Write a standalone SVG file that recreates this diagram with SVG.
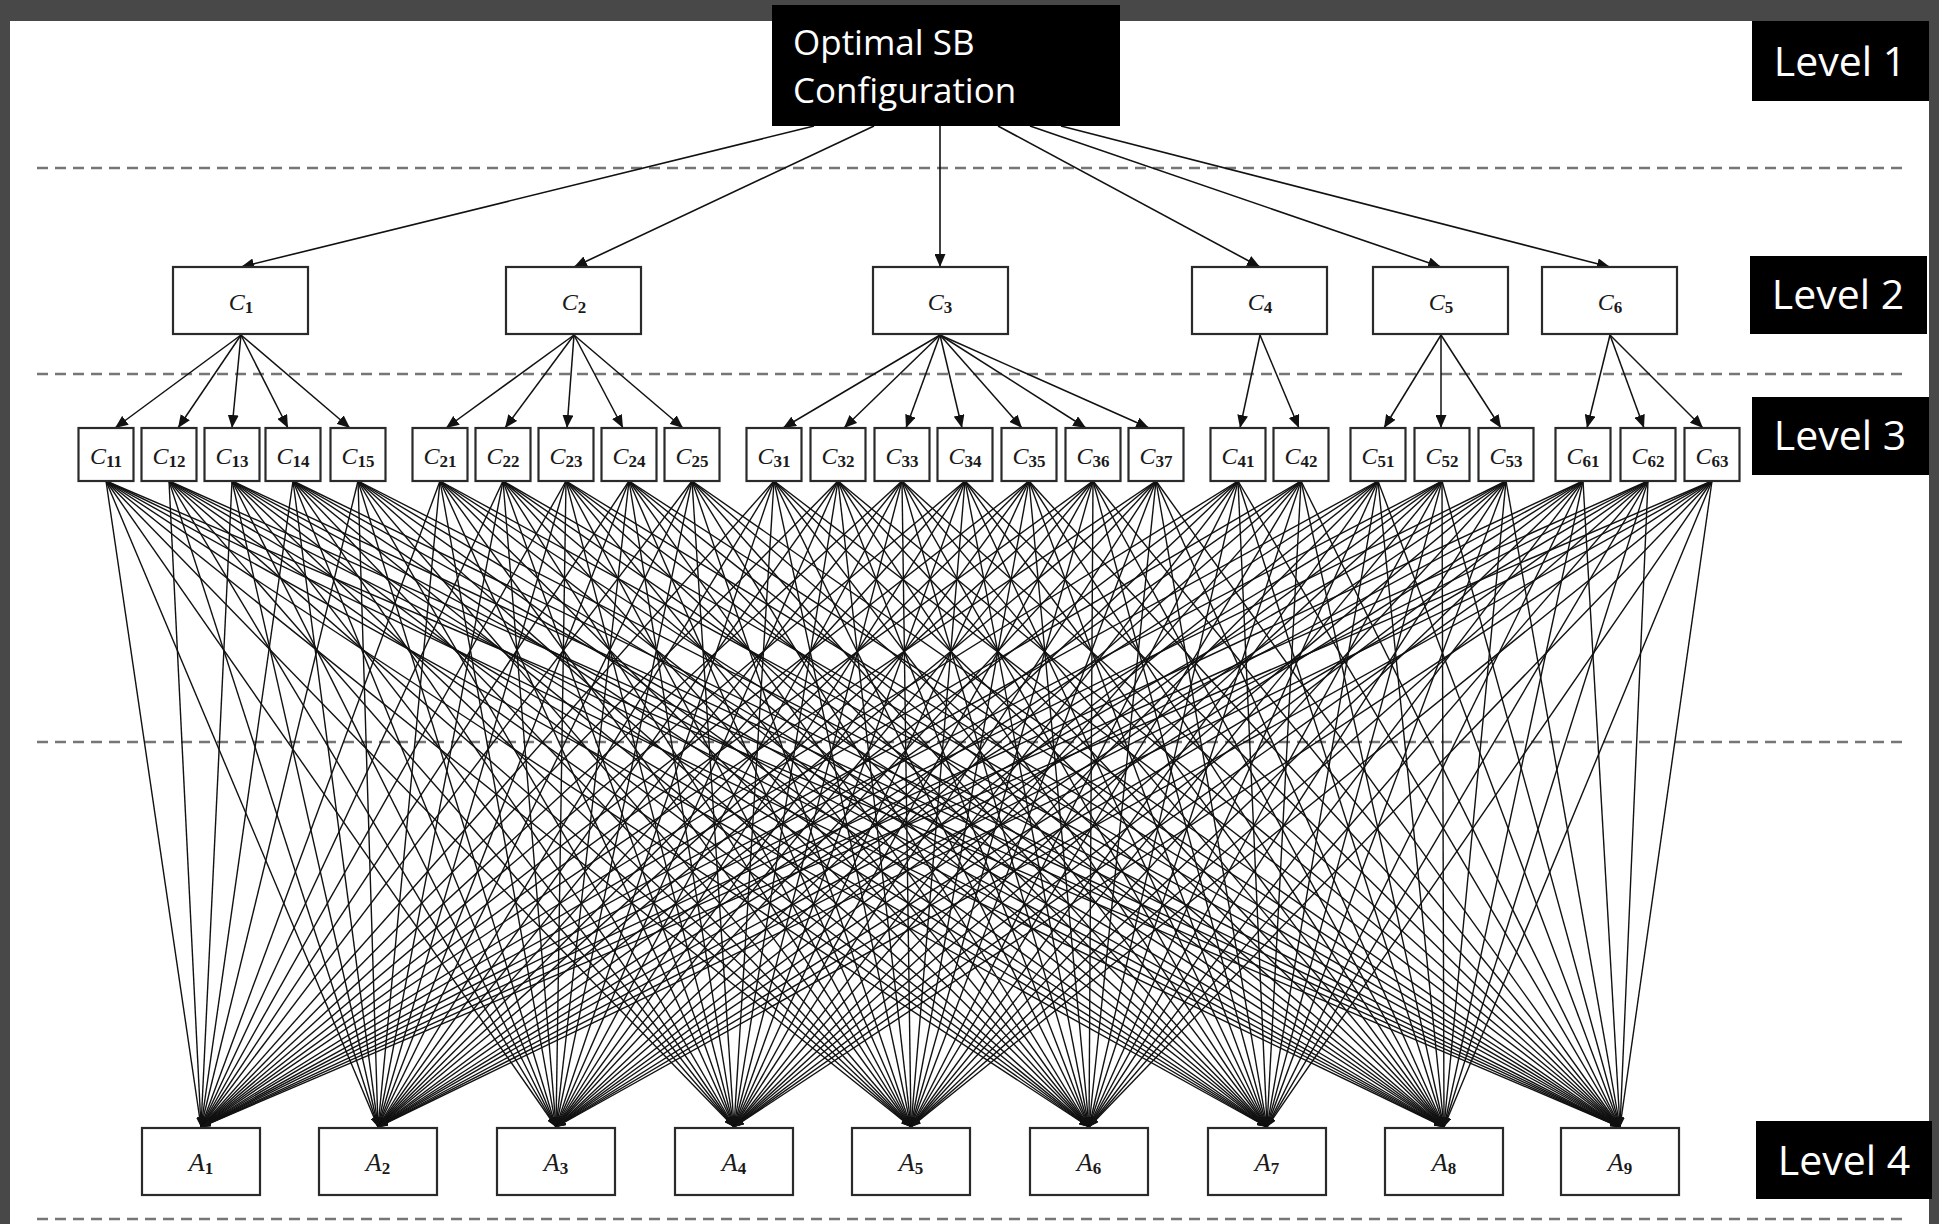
<svg xmlns="http://www.w3.org/2000/svg" width="1939" height="1224" viewBox="0 0 1939 1224">
<style>
.lbl{fill:#000}
.lbl text{fill:#fff;font-family:"Open Sans","Liberation Sans",sans-serif;font-size:41px;text-anchor:middle}
.title text{fill:#fff;font-family:"Open Sans","Liberation Sans",sans-serif;font-size:35px}
.box{fill:#fff;stroke:#2a2a2a;stroke-width:2.2}
.nt{font-family:"Liberation Serif","DejaVu Serif",serif;font-size:24px;text-anchor:middle;fill:#1a1a1a}
.nt .v{font-style:italic}
.nt .s{font-weight:bold;font-size:17px}
.at{font-size:26px}
.dash{stroke:#767676;stroke-width:2.4;stroke-dasharray:11 7;fill:none}
.top path{stroke:#111;stroke-width:1.6;fill:none;marker-end:url(#ah)}
.mid path{stroke:#111;stroke-width:1.5;fill:none;marker-end:url(#ah)}
.low path{stroke:#111;stroke-width:1.4;fill:none;marker-end:url(#as)}
</style>
<defs>
<marker id="ah" markerUnits="userSpaceOnUse" markerWidth="13" markerHeight="11" refX="13" refY="5.5" orient="auto"><path d="M0,0 L13,5.5 L0,11 z" fill="#111"/></marker>
<marker id="as" markerUnits="userSpaceOnUse" markerWidth="10" markerHeight="7" refX="10" refY="3.5" orient="auto"><path d="M0,0 L10,3.5 L0,7 z" fill="#111"/></marker>
</defs>
<rect width="1939" height="1224" fill="#484848"/>
<rect x="10" y="21" width="1919" height="1203" fill="#fff"/>
<g id="dividers">
<path class="dash" d="M37 168H1904"/>
<path class="dash" d="M37 374H1904"/>
<path class="dash" d="M37 742H1904"/>
<path class="dash" d="M37 1219H1904"/>
</g>
<g id="connectors">
<g class="top">
<path d="M814 126L241 267"/>
<path d="M874 126L574 267"/>
<path d="M940 126L940 267"/>
<path d="M998 126L1260 267"/>
<path d="M1030 126L1441 267"/>
<path d="M1061 126L1610 267"/>
</g>
<g class="mid">
<path d="M241 335L115 428"/><path d="M241 335L178 428"/><path d="M241 335L232 428"/><path d="M241 335L288 428"/><path d="M241 335L350 428"/>
<path d="M574 335L446 428"/><path d="M574 335L505 428"/><path d="M574 335L567 428"/><path d="M574 335L623 428"/><path d="M574 335L683 428"/>
<path d="M940 335L783 428"/><path d="M940 335L844 428"/><path d="M940 335L906 428"/><path d="M940 335L962 428"/><path d="M940 335L1022 428"/><path d="M940 335L1086 428"/><path d="M940 335L1149 428"/>
<path d="M1260 335L1240 428"/><path d="M1260 335L1299 428"/>
<path d="M1441 335L1384 428"/><path d="M1441 335L1441 428"/><path d="M1441 335L1501 428"/>
<path d="M1610 335L1587 428"/><path d="M1610 335L1644 428"/><path d="M1610 335L1703 428"/>
</g>
<g class="low">
<g id="to-A1"><path d="M106 481L201 1127"/><path d="M169 481L201 1127"/><path d="M232 481L201 1127"/><path d="M293 481L201 1127"/><path d="M358 481L201 1127"/><path d="M440 481L201 1127"/><path d="M503 481L201 1127"/><path d="M566 481L201 1127"/><path d="M629 481L201 1127"/><path d="M692 481L201 1127"/><path d="M774 481L201 1127"/><path d="M838 481L201 1127"/><path d="M902 481L201 1127"/><path d="M965 481L201 1127"/><path d="M1029 481L201 1127"/><path d="M1093 481L201 1127"/><path d="M1156 481L201 1127"/><path d="M1238 481L201 1127"/><path d="M1301 481L201 1127"/><path d="M1378 481L201 1127"/><path d="M1442 481L201 1127"/><path d="M1506 481L201 1127"/><path d="M1583 481L201 1127"/><path d="M1648 481L201 1127"/><path d="M1712 481L201 1127"/></g>
<g id="to-A2"><path d="M106 481L378 1127"/><path d="M169 481L378 1127"/><path d="M232 481L378 1127"/><path d="M293 481L378 1127"/><path d="M358 481L378 1127"/><path d="M440 481L378 1127"/><path d="M503 481L378 1127"/><path d="M566 481L378 1127"/><path d="M629 481L378 1127"/><path d="M692 481L378 1127"/><path d="M774 481L378 1127"/><path d="M838 481L378 1127"/><path d="M902 481L378 1127"/><path d="M965 481L378 1127"/><path d="M1029 481L378 1127"/><path d="M1093 481L378 1127"/><path d="M1156 481L378 1127"/><path d="M1238 481L378 1127"/><path d="M1301 481L378 1127"/><path d="M1378 481L378 1127"/><path d="M1442 481L378 1127"/><path d="M1506 481L378 1127"/><path d="M1583 481L378 1127"/><path d="M1648 481L378 1127"/><path d="M1712 481L378 1127"/></g>
<g id="to-A3"><path d="M106 481L556 1127"/><path d="M169 481L556 1127"/><path d="M232 481L556 1127"/><path d="M293 481L556 1127"/><path d="M358 481L556 1127"/><path d="M440 481L556 1127"/><path d="M503 481L556 1127"/><path d="M566 481L556 1127"/><path d="M629 481L556 1127"/><path d="M692 481L556 1127"/><path d="M774 481L556 1127"/><path d="M838 481L556 1127"/><path d="M902 481L556 1127"/><path d="M965 481L556 1127"/><path d="M1029 481L556 1127"/><path d="M1093 481L556 1127"/><path d="M1156 481L556 1127"/><path d="M1238 481L556 1127"/><path d="M1301 481L556 1127"/><path d="M1378 481L556 1127"/><path d="M1442 481L556 1127"/><path d="M1506 481L556 1127"/><path d="M1583 481L556 1127"/><path d="M1648 481L556 1127"/><path d="M1712 481L556 1127"/></g>
<g id="to-A4"><path d="M106 481L734 1127"/><path d="M169 481L734 1127"/><path d="M232 481L734 1127"/><path d="M293 481L734 1127"/><path d="M358 481L734 1127"/><path d="M440 481L734 1127"/><path d="M503 481L734 1127"/><path d="M566 481L734 1127"/><path d="M629 481L734 1127"/><path d="M692 481L734 1127"/><path d="M774 481L734 1127"/><path d="M838 481L734 1127"/><path d="M902 481L734 1127"/><path d="M965 481L734 1127"/><path d="M1029 481L734 1127"/><path d="M1093 481L734 1127"/><path d="M1156 481L734 1127"/><path d="M1238 481L734 1127"/><path d="M1301 481L734 1127"/><path d="M1378 481L734 1127"/><path d="M1442 481L734 1127"/><path d="M1506 481L734 1127"/><path d="M1583 481L734 1127"/><path d="M1648 481L734 1127"/><path d="M1712 481L734 1127"/></g>
<g id="to-A5"><path d="M106 481L911 1127"/><path d="M169 481L911 1127"/><path d="M232 481L911 1127"/><path d="M293 481L911 1127"/><path d="M358 481L911 1127"/><path d="M440 481L911 1127"/><path d="M503 481L911 1127"/><path d="M566 481L911 1127"/><path d="M629 481L911 1127"/><path d="M692 481L911 1127"/><path d="M774 481L911 1127"/><path d="M838 481L911 1127"/><path d="M902 481L911 1127"/><path d="M965 481L911 1127"/><path d="M1029 481L911 1127"/><path d="M1093 481L911 1127"/><path d="M1156 481L911 1127"/><path d="M1238 481L911 1127"/><path d="M1301 481L911 1127"/><path d="M1378 481L911 1127"/><path d="M1442 481L911 1127"/><path d="M1506 481L911 1127"/><path d="M1583 481L911 1127"/><path d="M1648 481L911 1127"/><path d="M1712 481L911 1127"/></g>
<g id="to-A6"><path d="M106 481L1089 1127"/><path d="M169 481L1089 1127"/><path d="M232 481L1089 1127"/><path d="M293 481L1089 1127"/><path d="M358 481L1089 1127"/><path d="M440 481L1089 1127"/><path d="M503 481L1089 1127"/><path d="M566 481L1089 1127"/><path d="M629 481L1089 1127"/><path d="M692 481L1089 1127"/><path d="M774 481L1089 1127"/><path d="M838 481L1089 1127"/><path d="M902 481L1089 1127"/><path d="M965 481L1089 1127"/><path d="M1029 481L1089 1127"/><path d="M1093 481L1089 1127"/><path d="M1156 481L1089 1127"/><path d="M1238 481L1089 1127"/><path d="M1301 481L1089 1127"/><path d="M1378 481L1089 1127"/><path d="M1442 481L1089 1127"/><path d="M1506 481L1089 1127"/><path d="M1583 481L1089 1127"/><path d="M1648 481L1089 1127"/><path d="M1712 481L1089 1127"/></g>
<g id="to-A7"><path d="M106 481L1267 1127"/><path d="M169 481L1267 1127"/><path d="M232 481L1267 1127"/><path d="M293 481L1267 1127"/><path d="M358 481L1267 1127"/><path d="M440 481L1267 1127"/><path d="M503 481L1267 1127"/><path d="M566 481L1267 1127"/><path d="M629 481L1267 1127"/><path d="M692 481L1267 1127"/><path d="M774 481L1267 1127"/><path d="M838 481L1267 1127"/><path d="M902 481L1267 1127"/><path d="M965 481L1267 1127"/><path d="M1029 481L1267 1127"/><path d="M1093 481L1267 1127"/><path d="M1156 481L1267 1127"/><path d="M1238 481L1267 1127"/><path d="M1301 481L1267 1127"/><path d="M1378 481L1267 1127"/><path d="M1442 481L1267 1127"/><path d="M1506 481L1267 1127"/><path d="M1583 481L1267 1127"/><path d="M1648 481L1267 1127"/><path d="M1712 481L1267 1127"/></g>
<g id="to-A8"><path d="M106 481L1444 1127"/><path d="M169 481L1444 1127"/><path d="M232 481L1444 1127"/><path d="M293 481L1444 1127"/><path d="M358 481L1444 1127"/><path d="M440 481L1444 1127"/><path d="M503 481L1444 1127"/><path d="M566 481L1444 1127"/><path d="M629 481L1444 1127"/><path d="M692 481L1444 1127"/><path d="M774 481L1444 1127"/><path d="M838 481L1444 1127"/><path d="M902 481L1444 1127"/><path d="M965 481L1444 1127"/><path d="M1029 481L1444 1127"/><path d="M1093 481L1444 1127"/><path d="M1156 481L1444 1127"/><path d="M1238 481L1444 1127"/><path d="M1301 481L1444 1127"/><path d="M1378 481L1444 1127"/><path d="M1442 481L1444 1127"/><path d="M1506 481L1444 1127"/><path d="M1583 481L1444 1127"/><path d="M1648 481L1444 1127"/><path d="M1712 481L1444 1127"/></g>
<g id="to-A9"><path d="M106 481L1620 1127"/><path d="M169 481L1620 1127"/><path d="M232 481L1620 1127"/><path d="M293 481L1620 1127"/><path d="M358 481L1620 1127"/><path d="M440 481L1620 1127"/><path d="M503 481L1620 1127"/><path d="M566 481L1620 1127"/><path d="M629 481L1620 1127"/><path d="M692 481L1620 1127"/><path d="M774 481L1620 1127"/><path d="M838 481L1620 1127"/><path d="M902 481L1620 1127"/><path d="M965 481L1620 1127"/><path d="M1029 481L1620 1127"/><path d="M1093 481L1620 1127"/><path d="M1156 481L1620 1127"/><path d="M1238 481L1620 1127"/><path d="M1301 481L1620 1127"/><path d="M1378 481L1620 1127"/><path d="M1442 481L1620 1127"/><path d="M1506 481L1620 1127"/><path d="M1583 481L1620 1127"/><path d="M1648 481L1620 1127"/><path d="M1712 481L1620 1127"/></g>
</g>
</g>
<g id="root" class="title"><rect x="772" y="5" width="348" height="121" fill="#000"/><text x="793" y="55">Optimal SB</text><text x="793" y="103">Configuration</text></g>
<g id="level1" class="lbl"><rect x="1752" y="21" width="177" height="80"/><text x="1840" y="76">Level 1</text></g>
<g id="level2" class="lbl"><rect x="1750" y="256" width="177" height="78"/><text x="1838" y="309">Level 2</text></g>
<g id="level3" class="lbl"><rect x="1752" y="397" width="177" height="78"/><text x="1840" y="450">Level 3</text></g>
<g id="level4" class="lbl"><rect x="1756" y="1121" width="176" height="78"/><text x="1844" y="1175">Level 4</text></g>
<g id="C1"><rect class="box" x="173" y="267" width="135" height="67"/><text class="nt" x="241" y="310"><tspan class="v">C</tspan><tspan class="s" dy="3">1</tspan></text></g>
<g id="C2"><rect class="box" x="506" y="267" width="135" height="67"/><text class="nt" x="574" y="310"><tspan class="v">C</tspan><tspan class="s" dy="3">2</tspan></text></g>
<g id="C3"><rect class="box" x="873" y="267" width="135" height="67"/><text class="nt" x="940" y="310"><tspan class="v">C</tspan><tspan class="s" dy="3">3</tspan></text></g>
<g id="C4"><rect class="box" x="1192" y="267" width="135" height="67"/><text class="nt" x="1260" y="310"><tspan class="v">C</tspan><tspan class="s" dy="3">4</tspan></text></g>
<g id="C5"><rect class="box" x="1373" y="267" width="135" height="67"/><text class="nt" x="1441" y="310"><tspan class="v">C</tspan><tspan class="s" dy="3">5</tspan></text></g>
<g id="C6"><rect class="box" x="1542" y="267" width="135" height="67"/><text class="nt" x="1610" y="310"><tspan class="v">C</tspan><tspan class="s" dy="3">6</tspan></text></g>
<g id="C11"><rect class="box" x="78.5" y="428" width="55" height="53"/><text class="nt" x="106" y="464"><tspan class="v">C</tspan><tspan class="s" dy="3">11</tspan></text></g>
<g id="C12"><rect class="box" x="141.5" y="428" width="55" height="53"/><text class="nt" x="169" y="464"><tspan class="v">C</tspan><tspan class="s" dy="3">12</tspan></text></g>
<g id="C13"><rect class="box" x="204.5" y="428" width="55" height="53"/><text class="nt" x="232" y="464"><tspan class="v">C</tspan><tspan class="s" dy="3">13</tspan></text></g>
<g id="C14"><rect class="box" x="265.5" y="428" width="55" height="53"/><text class="nt" x="293" y="464"><tspan class="v">C</tspan><tspan class="s" dy="3">14</tspan></text></g>
<g id="C15"><rect class="box" x="330.5" y="428" width="55" height="53"/><text class="nt" x="358" y="464"><tspan class="v">C</tspan><tspan class="s" dy="3">15</tspan></text></g>
<g id="C21"><rect class="box" x="412.5" y="428" width="55" height="53"/><text class="nt" x="440" y="464"><tspan class="v">C</tspan><tspan class="s" dy="3">21</tspan></text></g>
<g id="C22"><rect class="box" x="475.5" y="428" width="55" height="53"/><text class="nt" x="503" y="464"><tspan class="v">C</tspan><tspan class="s" dy="3">22</tspan></text></g>
<g id="C23"><rect class="box" x="538.5" y="428" width="55" height="53"/><text class="nt" x="566" y="464"><tspan class="v">C</tspan><tspan class="s" dy="3">23</tspan></text></g>
<g id="C24"><rect class="box" x="601.5" y="428" width="55" height="53"/><text class="nt" x="629" y="464"><tspan class="v">C</tspan><tspan class="s" dy="3">24</tspan></text></g>
<g id="C25"><rect class="box" x="664.5" y="428" width="55" height="53"/><text class="nt" x="692" y="464"><tspan class="v">C</tspan><tspan class="s" dy="3">25</tspan></text></g>
<g id="C31"><rect class="box" x="746.5" y="428" width="55" height="53"/><text class="nt" x="774" y="464"><tspan class="v">C</tspan><tspan class="s" dy="3">31</tspan></text></g>
<g id="C32"><rect class="box" x="810.5" y="428" width="55" height="53"/><text class="nt" x="838" y="464"><tspan class="v">C</tspan><tspan class="s" dy="3">32</tspan></text></g>
<g id="C33"><rect class="box" x="874.5" y="428" width="55" height="53"/><text class="nt" x="902" y="464"><tspan class="v">C</tspan><tspan class="s" dy="3">33</tspan></text></g>
<g id="C34"><rect class="box" x="937.5" y="428" width="55" height="53"/><text class="nt" x="965" y="464"><tspan class="v">C</tspan><tspan class="s" dy="3">34</tspan></text></g>
<g id="C35"><rect class="box" x="1001.5" y="428" width="55" height="53"/><text class="nt" x="1029" y="464"><tspan class="v">C</tspan><tspan class="s" dy="3">35</tspan></text></g>
<g id="C36"><rect class="box" x="1065.5" y="428" width="55" height="53"/><text class="nt" x="1093" y="464"><tspan class="v">C</tspan><tspan class="s" dy="3">36</tspan></text></g>
<g id="C37"><rect class="box" x="1128.5" y="428" width="55" height="53"/><text class="nt" x="1156" y="464"><tspan class="v">C</tspan><tspan class="s" dy="3">37</tspan></text></g>
<g id="C41"><rect class="box" x="1210.5" y="428" width="55" height="53"/><text class="nt" x="1238" y="464"><tspan class="v">C</tspan><tspan class="s" dy="3">41</tspan></text></g>
<g id="C42"><rect class="box" x="1273.5" y="428" width="55" height="53"/><text class="nt" x="1301" y="464"><tspan class="v">C</tspan><tspan class="s" dy="3">42</tspan></text></g>
<g id="C51"><rect class="box" x="1350.5" y="428" width="55" height="53"/><text class="nt" x="1378" y="464"><tspan class="v">C</tspan><tspan class="s" dy="3">51</tspan></text></g>
<g id="C52"><rect class="box" x="1414.5" y="428" width="55" height="53"/><text class="nt" x="1442" y="464"><tspan class="v">C</tspan><tspan class="s" dy="3">52</tspan></text></g>
<g id="C53"><rect class="box" x="1478.5" y="428" width="55" height="53"/><text class="nt" x="1506" y="464"><tspan class="v">C</tspan><tspan class="s" dy="3">53</tspan></text></g>
<g id="C61"><rect class="box" x="1555.5" y="428" width="55" height="53"/><text class="nt" x="1583" y="464"><tspan class="v">C</tspan><tspan class="s" dy="3">61</tspan></text></g>
<g id="C62"><rect class="box" x="1620.5" y="428" width="55" height="53"/><text class="nt" x="1648" y="464"><tspan class="v">C</tspan><tspan class="s" dy="3">62</tspan></text></g>
<g id="C63"><rect class="box" x="1684.5" y="428" width="55" height="53"/><text class="nt" x="1712" y="464"><tspan class="v">C</tspan><tspan class="s" dy="3">63</tspan></text></g>
<g id="A1"><rect class="box" x="142" y="1128" width="118" height="67"/><text class="nt at" x="201" y="1171"><tspan class="v">A</tspan><tspan class="s" dy="3">1</tspan></text></g>
<g id="A2"><rect class="box" x="319" y="1128" width="118" height="67"/><text class="nt at" x="378" y="1171"><tspan class="v">A</tspan><tspan class="s" dy="3">2</tspan></text></g>
<g id="A3"><rect class="box" x="497" y="1128" width="118" height="67"/><text class="nt at" x="556" y="1171"><tspan class="v">A</tspan><tspan class="s" dy="3">3</tspan></text></g>
<g id="A4"><rect class="box" x="675" y="1128" width="118" height="67"/><text class="nt at" x="734" y="1171"><tspan class="v">A</tspan><tspan class="s" dy="3">4</tspan></text></g>
<g id="A5"><rect class="box" x="852" y="1128" width="118" height="67"/><text class="nt at" x="911" y="1171"><tspan class="v">A</tspan><tspan class="s" dy="3">5</tspan></text></g>
<g id="A6"><rect class="box" x="1030" y="1128" width="118" height="67"/><text class="nt at" x="1089" y="1171"><tspan class="v">A</tspan><tspan class="s" dy="3">6</tspan></text></g>
<g id="A7"><rect class="box" x="1208" y="1128" width="118" height="67"/><text class="nt at" x="1267" y="1171"><tspan class="v">A</tspan><tspan class="s" dy="3">7</tspan></text></g>
<g id="A8"><rect class="box" x="1385" y="1128" width="118" height="67"/><text class="nt at" x="1444" y="1171"><tspan class="v">A</tspan><tspan class="s" dy="3">8</tspan></text></g>
<g id="A9"><rect class="box" x="1561" y="1128" width="118" height="67"/><text class="nt at" x="1620" y="1171"><tspan class="v">A</tspan><tspan class="s" dy="3">9</tspan></text></g>
</svg>
